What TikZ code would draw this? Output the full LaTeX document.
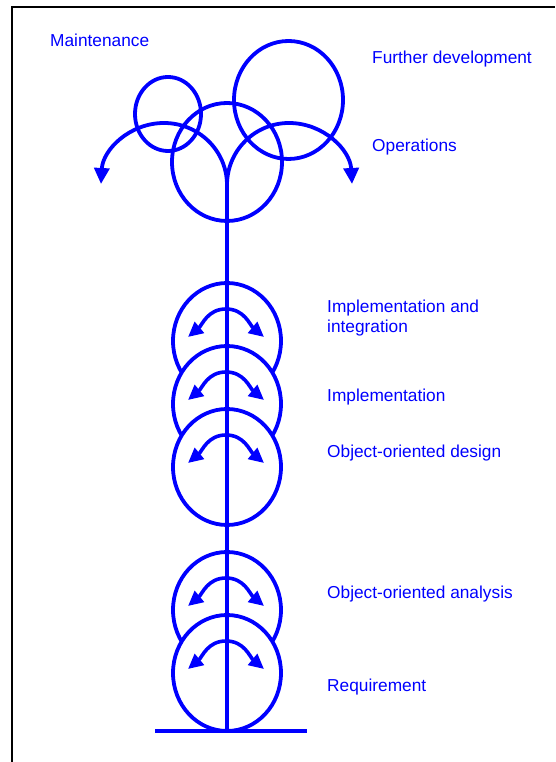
\documentclass[tikz,border=0pt]{standalone}
\usepackage{fontspec}
\setmainfont{Liberation Sans}
\usetikzlibrary{arrows.meta}
\begin{document}
\begin{tikzpicture}[x=1pt,y=1pt,
  ln/.style={draw=blue,line width=3.8pt},
  disc/.style={ln,fill=white},
  bigarrow/.style={ln,-{Triangle[length=16pt,width=15pt]}},
  smallarrow/.style={draw=blue,line width=3.6pt,-{Triangle[length=15pt,width=14pt]}},
  lbl/.style={text=blue,inner sep=0pt,anchor=base west,align=left,
    font=\fontsize{17.3}{20.5}\selectfont}]
\useasboundingbox (0,0) rectangle (555,762);
% frame
\draw[line width=2.2pt,black] (12,0) -- (12,755) -- (555,755);
% top circles
\draw[ln] (227,600) ellipse [x radius=55,y radius=59];
\draw[ln] (168,648) ellipse [x radius=33,y radius=37];
\draw[ln] (288.5,662) ellipse [x radius=54.5,y radius=59];
% top branches
\coordinate (top) at (227,577);
\coordinate (lapex) at (164,639);
\coordinate (rapex) at (289,639);
\coordinate (ltip) at (101,578);
\coordinate (rtip) at (352,578);
\draw[ln] (top) to[out=90,in=0] (lapex);
\draw[bigarrow] (lapex) to[out=180,in=87] (ltip);
\draw[ln] (top) to[out=90,in=180] (rapex);
\draw[bigarrow] (rapex) to[out=0,in=93] (rtip);
% stem circles with arrows
\foreach \cy/\nm in {421/a,358/b,295/c,152/d,89/e}{
  \draw[disc] (227,\cy) ellipse [x radius=54,y radius=58];
  \coordinate (ap\nm) at (226,\cy+32);
  \coordinate (tl\nm) at (188,\cy+4);
  \coordinate (tr\nm) at (264,\cy+4);
  \draw[smallarrow] (ap\nm) to[out=180,in=40] (tl\nm);
  \draw[smallarrow] (ap\nm) to[out=0,in=140] (tr\nm);
}
% stem and base
\coordinate (foot) at (227,31);
\coordinate (bl) at (155,31);
\coordinate (br) at (307,31);
\draw[ln] (top) -- (foot);
\draw[draw=blue,line width=3.5pt] (bl) -- (br);
% labels
\node[lbl] (maint) at (50,715) {Maintenance};
\node[lbl] (further) at (372,698) {Further development};
\node[lbl] (oper) at (372,610) {Operations};
\node[lbl] (implint) at (327,429) {Implementation and\\integration};
\node[lbl] (impl) at (327,360) {Implementation};
\node[lbl] (ood) at (327,304) {Object-oriented design};
\node[lbl] (ooa) at (327,163) {Object-oriented analysis};
\node[lbl] (req) at (327,70) {Requirement};
\end{tikzpicture}
\end{document}
